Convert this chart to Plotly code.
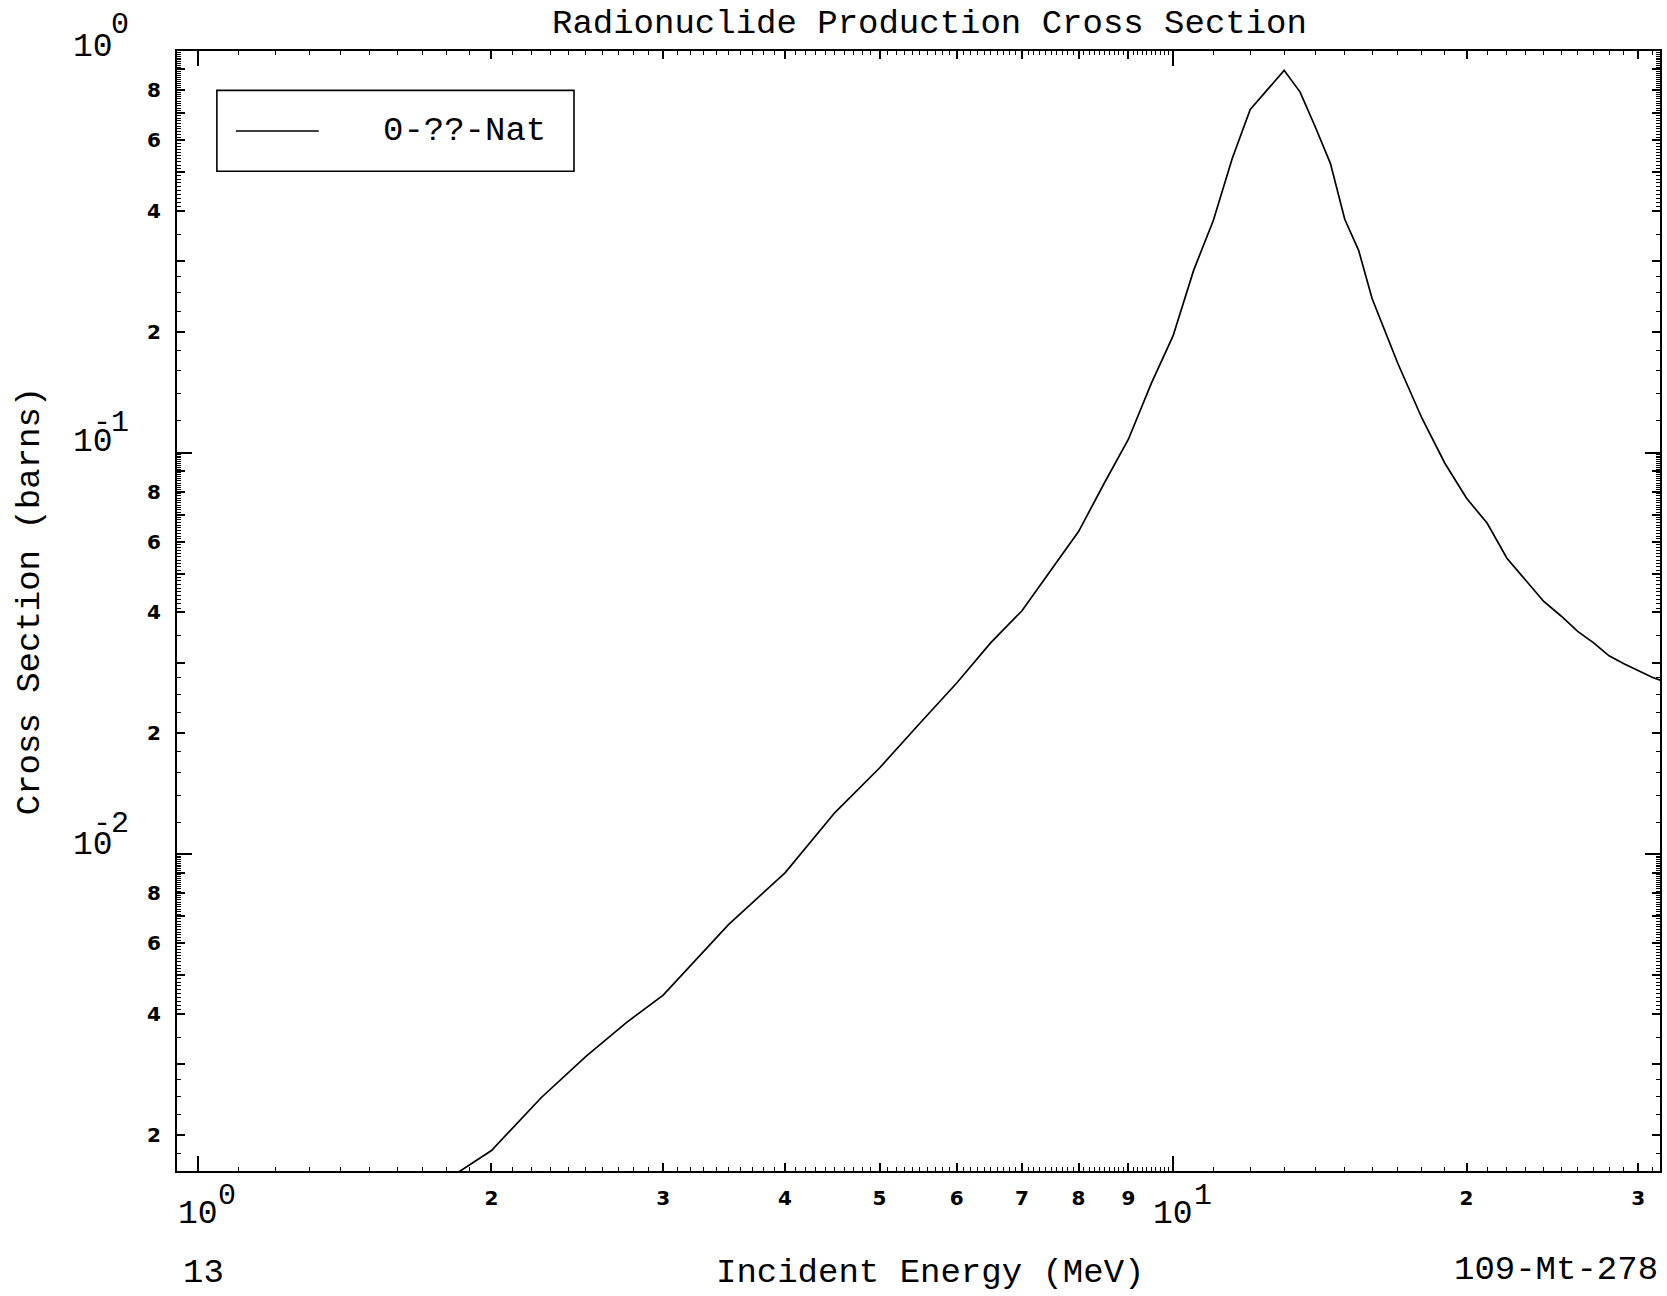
import math
import plotly.graph_objects as go

# ---------------- data ----------------
energy_mev = [1.75, 2.0, 2.25, 2.5, 2.75, 3.0, 3.5, 4.0, 4.5, 5.0, 5.5, 6.0, 6.5,
              7.0, 7.5, 8.0, 8.5, 9.0, 9.5, 10.0, 10.5, 11.0, 11.5, 12.0, 13.0,
              13.5, 14.0, 14.5, 15.0, 15.5, 16.0, 17.0, 18.0, 19.0, 20.0, 21.0,
              22.0, 23.0, 24.0, 25.0, 26.0, 27.0, 28.0, 29.0, 30.0, 31.0, 32.0]
cross_section_b = [0.00148, 0.00183, 0.00248, 0.00314, 0.00381, 0.00446, 0.00668,
                   0.00899, 0.0127, 0.0164, 0.0212, 0.0267, 0.0336, 0.0404, 0.0511,
                   0.0636, 0.0839, 0.108, 0.1488, 0.1952, 0.2847, 0.379, 0.54,
                   0.715, 0.895, 0.79, 0.645, 0.525, 0.381, 0.319, 0.242, 0.1669,
                   0.1218, 0.0941, 0.0770, 0.0667, 0.0546, 0.0482, 0.0426, 0.0392,
                   0.0359, 0.0336, 0.0312, 0.0298, 0.0286, 0.0276, 0.0268]

series_name = "0-??-Nat"
title_text = "Radionuclide Production Cross Section"
x_title_text = "Incident Energy (MeV)"
y_title_text = "Cross Section (barns)"
corner_left_text = "13"
corner_right_text = "109-Mt-278"

x_major_vals = [2, 3, 4, 5, 6, 7, 8, 9, 20, 30]
x_major_text = ["2", "3", "4", "5", "6", "7", "8", "9", "2", "3"]
x_decade_vals = [1, 10]
x_decade_exp = ["0", "1"]

y_multipliers = [2, 3, 4, 5, 6, 7, 8, 9]
y_decade_vals = [0.001, 0.01, 0.1, 1]
y_decade_exp = ["-3", "-2", "-1", "0"]

# ---------------- tick helpers ----------------
y_major_vals, y_major_text = [], []
for d in [0.001, 0.01, 0.1]:
    for m in y_multipliers:
        y_major_vals.append(round(m * d, 6))
        y_major_text.append(str(m) if m % 2 == 0 else "")

x_minor_vals = []
for i in range(10, 100):
    if i % 10 != 0:
        x_minor_vals.append(i / 10)
for v in range(11, 32):
    if v % 10 != 0:
        x_minor_vals.append(float(v))

y_minor_mult = [1.2, 1.4, 1.6, 1.8, 2.25, 2.5, 2.75, 3.5]
for i in range(41, 100):
    if i % 10 != 0:
        y_minor_mult.append(i / 10)
y_minor_vals = [round(m * d, 7) for d in [0.001, 0.01, 0.1] for m in y_minor_mult]

X_RANGE = [-0.0215, 1.4994]
Y_RANGE = [-2.7886, 0.0]

MONO = "Liberation Mono"
BLACK = "#000000"
TEXT_SIZE = 34

fig = go.Figure()
fig.add_trace(go.Scatter(
    x=energy_mev, y=cross_section_b, mode="lines", name=series_name,
    line=dict(color=BLACK, width=1.7), showlegend=False,
    xaxis="x", yaxis="y",
))

tick_font = dict(family="DejaVu Sans", size=20, color=BLACK, weight="bold")

fig.update_layout(
    width=1667, height=1296,
    paper_bgcolor="white", plot_bgcolor="white",
    margin=dict(l=177, r=5, t=51, b=125),
    showlegend=False,
    xaxis=dict(
        type="log", range=X_RANGE, showgrid=False, zeroline=False,
        showline=True, linecolor=BLACK, linewidth=2, mirror="allticks",
        ticks="inside", ticklen=8, tickwidth=1.5, tickcolor=BLACK,
        tickmode="array", tickvals=x_major_vals, ticktext=x_major_text,
        tickfont=tick_font, ticklabelstandoff=8,
        minor=dict(tickmode="array", tickvals=x_minor_vals, ticks="inside",
                   ticklen=4, tickwidth=1, tickcolor=BLACK, showgrid=False),
    ),
    yaxis=dict(
        type="log", range=Y_RANGE, showgrid=False, zeroline=False,
        showline=True, linecolor=BLACK, linewidth=2, mirror="allticks",
        ticks="inside", ticklen=8, tickwidth=1.5, tickcolor=BLACK,
        tickmode="array", tickvals=y_major_vals, ticktext=y_major_text,
        tickfont=tick_font, ticklabelstandoff=10,
        minor=dict(tickmode="array", tickvals=y_minor_vals, ticks="inside",
                   ticklen=4, tickwidth=1, tickcolor=BLACK, showgrid=False),
    ),
    xaxis2=dict(
        type="log", range=X_RANGE, overlaying="x", anchor="y", side="bottom",
        showgrid=False, zeroline=False, showline=False, mirror="allticks",
        ticks="inside", ticklen=15, tickwidth=2, tickcolor=BLACK,
        tickmode="array", tickvals=x_decade_vals, showticklabels=False,
    ),
    yaxis2=dict(
        type="log", range=Y_RANGE, overlaying="y", anchor="x", side="left",
        showgrid=False, zeroline=False, showline=False, mirror="allticks",
        ticks="inside", ticklen=15, tickwidth=2, tickcolor=BLACK,
        tickmode="array", tickvals=y_decade_vals, showticklabels=False,
    ),
)
# empty trace so the overlay axes are rendered
fig.add_trace(go.Scatter(x=[], y=[], xaxis="x2", yaxis="y2", showlegend=False,
                         hoverinfo="skip"))

annotations = []


def txt(text, x, y, size=TEXT_SIZE, xanchor="center", yanchor="middle",
        xref="paper", yref="paper", xshift=0, yshift=0, angle=0):
    annotations.append(dict(
        text=text, x=x, y=y, xref=xref, yref=yref, xanchor=xanchor,
        yanchor=yanchor, showarrow=False, xshift=xshift, yshift=yshift,
        textangle=angle, font=dict(family=MONO, size=size, color=BLACK),
    ))


# titles and corner labels
txt(title_text, 0.5071, 1.0237)
txt(x_title_text, 0.5077, -0.0911)
txt(corner_left_text, 0.0027, -0.0911, xanchor="left")
txt(corner_right_text, 1.0, -0.0884, xanchor="right")
txt(y_title_text, -0.099, 0.5089, angle=-90)

# x decade labels
for v, e in zip(x_decade_vals, x_decade_exp):
    lv = math.log10(v)
    txt("10", lv, 0, size=33, xref="x", yshift=-43.5)
    txt(e, lv, 0, size=30, xref="x", xshift=29.5, yshift=-25)

# y decade labels
y_label_shift = {"0": (3.2, 26.0), "-1": (9.7, 29.7), "-2": (8.7, 30.0)}
for v, e in zip(y_decade_vals, y_decade_exp):
    lv = math.log10(v)
    if lv < Y_RANGE[0] - 1e-9:
        continue
    ys_base, ys_sup = y_label_shift.get(e, (8.7, 30.0))
    txt("10", 0, lv, size=33, yref="y", xshift=-84, yshift=ys_base)
    txt(e, 0, lv, size=30, yref="y", xanchor="right", xshift=-46, yshift=ys_sup)

# legend (box, sample line, label)
shapes = [
    dict(type="rect", xref="paper", yref="paper", x0=0.0269, x1=0.2677,
         y0=0.8926, y1=0.9648, line=dict(color=BLACK, width=1.6),
         fillcolor="white", layer="above"),
    dict(type="line", xref="paper", yref="paper", x0=0.0397, x1=0.0956,
         y0=0.9286, y1=0.9286, line=dict(color=BLACK, width=1.6), layer="above"),
]
txt(series_name, 0.1374, 0.9286, xanchor="left")

fig.update_layout(annotations=annotations, shapes=shapes)
fig.write_html(
    "out.html",
    config={"displayModeBar": False},
    post_script="document.body.style.margin='0';document.body.style.overflow='hidden';",
)
